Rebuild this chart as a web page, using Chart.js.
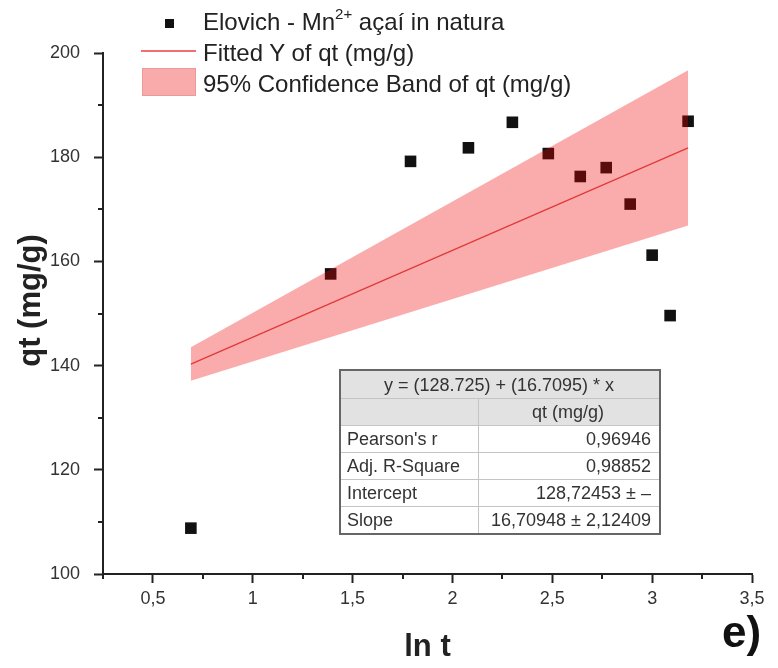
<!DOCTYPE html>
<html>
<head>
<meta charset="utf-8">
<script src="https://cdn.jsdelivr.net/npm/chart.js@4.4.1/dist/chart.umd.min.js"></script>
<style>
  html, body { margin: 0; padding: 0; background: #fff; }
  #wrap { position: relative; width: 778px; height: 668px; font-family: "Liberation Sans", Arial, sans-serif; color: #222; overflow: hidden; }
  #popChart { position: absolute; left: 0; top: 0; }
  .lg { position: absolute; left: 203px; font-size: 24px; line-height: 24px; white-space: nowrap; color: #222; }
  .lg sup { font-size: 15px; line-height: 0; position: relative; top: -2px; }
  .mk { position: absolute; }
  #fitTable { position: absolute; left: 339px; top: 369px; width: 322px; border-collapse: collapse; font-size: 18px; color: #333; border: 2px solid #666; }
  #fitTable td { border: 1px solid #c4c4c4; padding: 0 8px 0 6px; height: 26px; line-height: 18px; }
  #fitTable tr.hd td { background: #e2e2e2; text-align: center; }
  #fitTable td.v { text-align: right; }
  #tag { position: absolute; left: 722px; top: 610px; font-size: 44px; line-height: 44px; font-weight: bold; color: #111; }
</style>
</head>
<body>
<div id="wrap">
  <canvas id="popChart" width="778" height="668"></canvas>

  <div class="mk" style="left:165px; top:19px; width:9px; height:9px; background:#111;"></div>
  <div class="lg" style="top:10px;">Elovich - Mn<sup>2+</sup> açaí in natura</div>
  <div class="mk" style="left:141px; top:50px; width:55px; height:2px; background:#f07070;"></div>
  <div class="lg" style="top:41px;">Fitted Y of qt (mg/g)</div>
  <div class="mk" style="left:142px; top:68px; width:54px; height:28px; background:#f9abab; box-sizing:border-box; border:1px solid #eb9a9a;"></div>
  <div class="lg" style="top:72px;">95% Confidence Band of qt (mg/g)</div>

  <table id="fitTable">
    <tr class="hd"><td colspan="2" style="height:27px;">y = (128.725) + (16.7095) * x</td></tr>
    <tr class="hd"><td style="width:123px;"></td><td>qt (mg/g)</td></tr>
    <tr><td>Pearson's r</td><td class="v">0,96946</td></tr>
    <tr><td>Adj. R-Square</td><td class="v">0,98852</td></tr>
    <tr><td>Intercept</td><td class="v">128,72453 ± –</td></tr>
    <tr><td>Slope</td><td class="v">16,70948 ± 2,12409</td></tr>
  </table>

  <div id="tag">e)</div>
</div>

<script>
// ln t values and measured qt
const lnT = [0.69, 1.39, 1.79, 2.08, 2.30, 2.48, 2.64, 2.77, 2.89, 3.00, 3.09, 3.18];
const qt = [108.8, 157.6, 179.2, 181.8, 186.7, 180.7, 176.3, 178.0, 171.0, 161.2, 149.6, 186.9];

// fitted line and 95% band, read at the two ends
const fitX = [0.69, 3.18];
const fitY = [140.3, 181.8];
const bandUpper = [143.5, 196.7];
const bandLower = [137.1, 166.9];

const xTicks = ["0,5", "1", "1,5", "2", "2,5", "3", "3,5"];

const fontFam = '"Liberation Sans", Arial, sans-serif';
const axisColor = "#222";

const pts = (xs, ys) => xs.map((x, i) => ({ x: x, y: ys[i] }));

// minor tick marks (Chart.js has no minor ticks of its own) + y title
const minorTicks = {
  id: "minorTicks",
  afterDraw(chart) {
    const ctx = chart.ctx;
    const xs = chart.scales.x;
    const ys = chart.scales.y;
    ctx.save();
    ctx.strokeStyle = axisColor;
    ctx.lineWidth = 2;
    ctx.beginPath();
    for (let v = 0.25; v <= 3.5; v += 0.5) {
      const px = Math.round(xs.getPixelForValue(v));
      ctx.moveTo(px, ys.bottom);
      ctx.lineTo(px, ys.bottom + 5);
    }
    for (let v = 110; v < 200; v += 20) {
      const py = Math.round(ys.getPixelForValue(v));
      ctx.moveTo(xs.left, py);
      ctx.lineTo(xs.left - 5, py);
    }
    ctx.stroke();

    // y axis title, a bit above the middle as in the original
    ctx.translate(31, ys.getPixelForValue(152.5));
    ctx.rotate(-Math.PI / 2);
    ctx.fillStyle = axisColor;
    ctx.font = "bold 31px " + fontFam;
    ctx.textAlign = "center";
    ctx.textBaseline = "middle";
    ctx.fillText("qt (mg/g)", 0, 0);
    ctx.restore();
  }
};

const ctd = document.getElementById("popChart");

new Chart(ctd, {
  type: "scatter",
  data: {
    datasets: [
      {
        type: "line",
        label: "Fitted Y of qt (mg/g)",
        data: pts(fitX, fitY),
        borderColor: "#e03a3a",
        borderWidth: 1.3,
        pointRadius: 0,
        fill: false,
      },
      {
        type: "line",
        label: "95% Confidence Band of qt (mg/g)",
        data: pts(fitX, bandUpper),
        borderWidth: 0,
        borderColor: "rgba(0,0,0,0)",
        backgroundColor: "rgba(240,0,0,0.33)",
        pointRadius: 0,
        fill: "+1",
      },
      {
        type: "line",
        label: "band lower",
        data: pts(fitX, bandLower),
        borderWidth: 0,
        borderColor: "rgba(0,0,0,0)",
        pointRadius: 0,
        fill: false,
      },
      {
        label: "Elovich - Mn2+ açaí in natura",
        data: pts(lnT, qt),
        pointStyle: "rect",
        pointRadius: 8.2,
        pointBackgroundColor: "#111",
        pointBorderWidth: 0,
        showLine: false,
      },
    ],
  },
  options: {
    responsive: false,
    animation: false,
    events: [],
    layout: { padding: { top: 53, right: 26, left: 0, bottom: 0 } },
    plugins: {
      legend: { display: false },
      tooltip: { enabled: false },
    },
    scales: {
      x: {
        type: "linear",
        min: 0.25,
        max: 3.5,
        afterFit: (s) => { s.height = 94; },
        border: { display: true, color: axisColor, width: 2 },
        grid: {
          drawOnChartArea: false,
          tickLength: 9,
          tickWidth: 2,
          tickColor: (c) => (c.tick && Math.abs(c.tick.value * 2 - Math.round(c.tick.value * 2)) < 1e-6 ? axisColor : "rgba(0,0,0,0)"),
        },
        ticks: {
          stepSize: 0.25,
          autoSkip: false,
          maxRotation: 0,
          padding: 5,
          color: "#333",
          font: { family: fontFam, size: 18 },
          callback: (v) => {
            const i = Math.round((v - 0.5) * 2);
            return Math.abs(v * 2 - Math.round(v * 2)) < 1e-6 && i >= 0 ? xTicks[i] : "";
          },
        },
        title: {
          display: true,
          text: "ln t",
          color: axisColor,
          padding: { top: 0, bottom: 2 },
          font: { family: fontFam, size: 31, weight: "bold" },
        },
      },
      y: {
        min: 100,
        max: 200,
        afterFit: (s) => { s.width = 103; },
        border: { display: true, color: axisColor, width: 2 },
        grid: {
          drawOnChartArea: false,
          tickLength: 9,
          tickWidth: 2,
          tickColor: (c) => (c.tick && c.tick.value % 20 === 0 ? axisColor : "rgba(0,0,0,0)"),
        },
        ticks: {
          stepSize: 10,
          padding: 14,
          color: "#333",
          font: { family: fontFam, size: 18 },
          callback: (v) => (v % 20 === 0 ? v : ""),
        },
      },
    },
  },
  plugins: [minorTicks],
});
</script>
</body>
</html>
